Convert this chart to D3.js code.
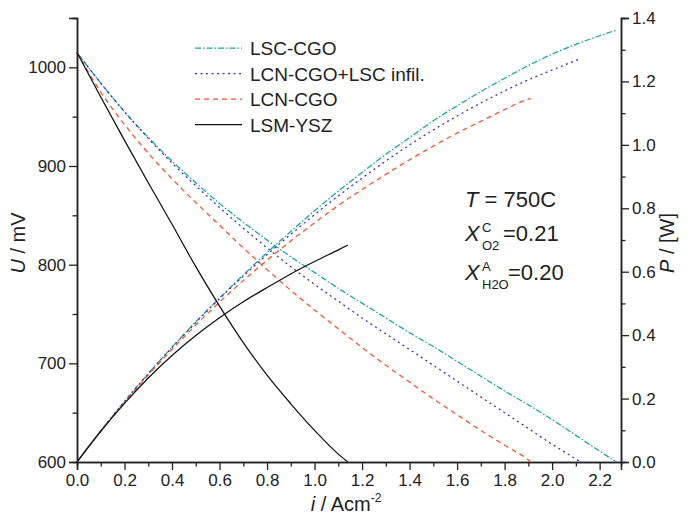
<!DOCTYPE html>
<html>
<head>
<meta charset="utf-8">
<script src="https://cdn.jsdelivr.net/npm/d3@7"></script>
<style>
  body { margin: 0; background: #fff; }
  text { font-family: "Liberation Sans", Arial, sans-serif; fill: #222; }
</style>
</head>
<body>
<div id="chart"></div>
<script>
// current density steps (A/cm2) and voltage / power per cathode
var iLSC  = [0, 0.1, 0.2, 0.3, 0.4, 0.5, 0.6, 0.7, 0.8, 0.9, 1.0, 1.1, 1.2, 1.3, 1.4, 1.5, 1.6, 1.7, 1.8, 1.9, 2.0, 2.1, 2.2, 2.27];
var uLSC  = [1015, 984, 955, 929, 905, 883, 862, 843, 825, 808, 792, 776, 761, 746, 731, 717, 702, 687, 672, 658, 643, 627, 611, 600];
var pLSC  = [0, 0.098, 0.191, 0.279, 0.362, 0.442, 0.517, 0.590, 0.660, 0.727, 0.792, 0.854, 0.913, 0.970, 1.023, 1.076, 1.123, 1.168, 1.210, 1.250, 1.286, 1.317, 1.344, 1.362];

var iInf  = [0, 0.1, 0.2, 0.3, 0.4, 0.5, 0.6, 0.7, 0.8, 0.9, 1.0, 1.1, 1.2, 1.3, 1.4, 1.5, 1.6, 1.7, 1.8, 1.9, 2.0, 2.1, 2.12];
var uInf  = [1015, 984, 955, 928, 903, 880, 858, 837, 817, 798, 780, 763, 746, 730, 714, 698, 682, 666, 650, 634, 618, 603, 600];
var pInf  = [0, 0.098, 0.191, 0.278, 0.361, 0.440, 0.515, 0.586, 0.654, 0.718, 0.780, 0.839, 0.895, 0.949, 1.000, 1.047, 1.091, 1.132, 1.170, 1.205, 1.236, 1.266, 1.272];

var iLCN  = [0, 0.1, 0.2, 0.3, 0.4, 0.5, 0.6, 0.7, 0.8, 0.9, 1.0, 1.1, 1.2, 1.3, 1.4, 1.5, 1.6, 1.7, 1.8, 1.9, 1.91];
var uLCN  = [1015, 975, 942, 913, 887, 863, 840, 817, 795, 774, 754, 735, 716, 698, 681, 664, 648, 632, 617, 602, 600];
var pLCN  = [0, 0.098, 0.188, 0.274, 0.355, 0.432, 0.504, 0.572, 0.636, 0.697, 0.754, 0.809, 0.859, 0.907, 0.953, 0.996, 1.037, 1.074, 1.111, 1.144, 1.146];

var iLSM  = [0, 0.1, 0.2, 0.3, 0.4, 0.5, 0.6, 0.7, 0.8, 0.9, 1.0, 1.1, 1.14];
var uLSM  = [1015, 970, 926, 883, 841, 798, 758, 721, 688, 659, 632, 608, 600];
var pLSM  = [0, 0.097, 0.185, 0.265, 0.336, 0.399, 0.455, 0.505, 0.550, 0.593, 0.632, 0.669, 0.684];

var seriesNames = ["LSC-CGO", "LCN-CGO+LSC infil.", "LCN-CGO", "LSM-YSZ"];
var xTicks = [0, 0.2, 0.4, 0.6, 0.8, 1.0, 1.2, 1.4, 1.6, 1.8, 2.0, 2.2];
var uTicks = [600, 700, 800, 900, 1000];
var pTicks = [0, 0.2, 0.4, 0.6, 0.8, 1.0, 1.2, 1.4];

var series = [
  {name: seriesNames[0], i: iLSC, u: uLSC, p: pLSC, color: "#17a29c", dash: "6,2,1.5,2"},
  {name: seriesNames[1], i: iInf, u: uInf, p: pInf, color: "#3030b8", dash: "2,3.5"},
  {name: seriesNames[2], i: iLCN, u: uLCN, p: pLCN, color: "#f0532d", dash: "5,4"},
  {name: seriesNames[3], i: iLSM, u: uLSM, p: pLSM, color: "#111111", dash: null}
];

var margin = {top: 18, right: 71, bottom: 59, left: 77},
    width = 692 - margin.left - margin.right,
    height = 521 - margin.top - margin.bottom;

var svg = d3.select("#chart")
    .append("svg")
    .attr("width", 692)
    .attr("height", 521)
    .append("g")
    .attr("transform", "translate(" + margin.left + "," + margin.top + ")");

var x = d3.scaleLinear().domain([0, 2.29]).range([0, width]);
var yU = d3.scaleLinear().domain([600, 1050]).range([height, 0]);
var yP = d3.scaleLinear().domain([0, 1.4]).range([height, 0]);

// minor ticks first, then major axes on top
function minor(axis, scale, vals) {
  return axis(scale).tickValues(vals).tickSize(4.5).tickFormat("");
}
var xMinor = d3.range(0.1, 2.29, 0.2);
var uMinor = [650, 750, 850, 950, 1050];
var pMinor = [0.1, 0.3, 0.5, 0.7, 0.9, 1.1, 1.3];

svg.append("g").attr("class", "ax")
    .attr("transform", "translate(0," + height + ")")
    .call(minor(d3.axisBottom, x, xMinor));
svg.append("g").attr("class", "ax")
    .call(minor(d3.axisLeft, yU, uMinor));
svg.append("g").attr("class", "ax")
    .attr("transform", "translate(" + width + ",0)")
    .call(minor(d3.axisRight, yP, pMinor));

svg.append("g").attr("class", "ax")
    .attr("transform", "translate(0," + height + ")")
    .call(d3.axisBottom(x).tickValues(xTicks).tickSize(8).tickPadding(4).tickFormat(d3.format(".1f")));
svg.append("g").attr("class", "ax")
    .call(d3.axisLeft(yU).tickValues(uTicks).tickSize(8).tickPadding(3).tickFormat(d3.format("d")));
svg.append("g").attr("class", "ax")
    .attr("transform", "translate(" + width + ",0)")
    .call(d3.axisRight(yP).tickValues(pTicks).tickSize(8).tickPadding(3).tickFormat(d3.format(".1f")));

svg.selectAll(".ax path").attr("stroke", "#222").attr("stroke-width", 1.5);
svg.selectAll(".ax line").attr("stroke", "#222").attr("stroke-width", 1.3);
svg.selectAll(".ax text").style("font-size", "17px").attr("fill", "#333");

// curves
var lineU = d3.line()
    .x(function(d) { return x(d[0]); })
    .y(function(d) { return yU(d[1]); })
    .curve(d3.curveMonotoneX);
var lineP = d3.line()
    .x(function(d) { return x(d[0]); })
    .y(function(d) { return yP(d[1]); })
    .curve(d3.curveMonotoneX);

series.forEach(function(s) {
  var du = s.i.map(function(v, k) { return [v, s.u[k]]; });
  var dp = s.i.map(function(v, k) { return [v, s.p[k]]; });
  [lineU(du), lineP(dp)].forEach(function(path) {
    svg.append("path")
        .attr("d", path)
        .attr("fill", "none")
        .attr("stroke", s.color)
        .attr("stroke-width", 1.25)
        .attr("stroke-dasharray", s.dash);
  });
});

// legend
var legend = svg.append("g").attr("transform", "translate(118,30)");
series.forEach(function(s, k) {
  var g = legend.append("g").attr("transform", "translate(0," + (k * 25.5) + ")");
  g.append("line")
      .attr("x1", 0).attr("x2", 47)
      .attr("y1", 0).attr("y2", 0)
      .attr("stroke", s.color)
      .attr("stroke-width", 1.25)
      .attr("stroke-dasharray", s.dash);
  g.append("text")
      .attr("x", 55).attr("y", 7)
      .style("font-size", "19px")
      .text(s.name);
});

// conditions
var note = svg.append("g").attr("transform", "translate(" + (465 - margin.left) + ",0)");
var t1 = note.append("text").attr("y", 207 - margin.top).style("font-size", "22px");
t1.append("tspan").style("font-style", "italic").text("T");
t1.append("tspan").text(" = 750C");

function xLine(y, sup, sub, val, valX) {
  note.append("text").attr("x", 0).attr("y", y).style("font-size", "22px").style("font-style", "italic").text("X");
  note.append("text").attr("x", 17).attr("y", y - 9).style("font-size", "13px").text(sup);
  note.append("text").attr("x", 17).attr("y", y + 9).style("font-size", "13px").text(sub);
  note.append("text").attr("x", valX).attr("y", y).style("font-size", "22px").text(val);
}
xLine(241 - margin.top, "C", "O2", "=0.21", 38);
xLine(280 - margin.top, "A", "H2O", "=0.20", 43);

// axis titles
var xt = svg.append("text")
    .attr("x", width / 2 - 3)
    .attr("y", height + 49)
    .attr("text-anchor", "middle")
    .style("font-size", "20px");
xt.append("tspan").style("font-style", "italic").text("i");
xt.append("tspan").text(" / Acm");
xt.append("tspan").attr("dy", -9).style("font-size", "12px").text("-2");

var yt = svg.append("text")
    .attr("transform", "translate(-52," + (height / 2 + 3) + ") rotate(-90)")
    .attr("text-anchor", "middle")
    .style("font-size", "20px");
yt.append("tspan").style("font-style", "italic").text("U");
yt.append("tspan").text(" / mV");

var pt = svg.append("text")
    .attr("transform", "translate(" + (width + 53) + "," + (height / 2 + 3) + ") rotate(-90)")
    .attr("text-anchor", "middle")
    .style("font-size", "20px");
pt.append("tspan").style("font-style", "italic").text("P");
pt.append("tspan").text(" / [W]");
</script>
</body>
</html>
